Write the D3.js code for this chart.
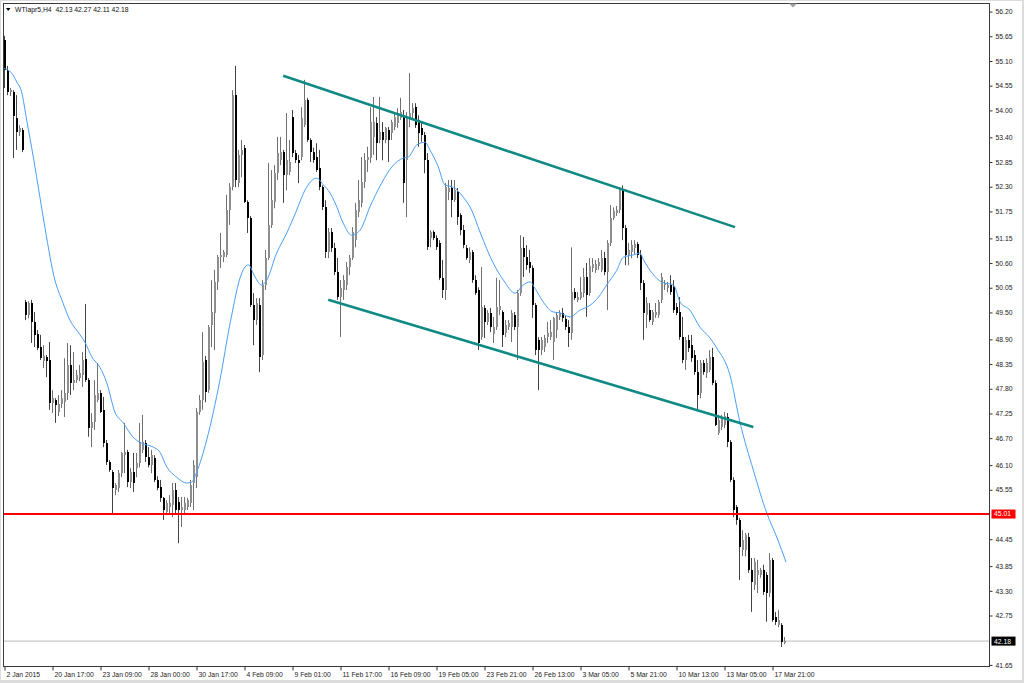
<!DOCTYPE html>
<html><head><meta charset="utf-8">
<script src="https://cdn.jsdelivr.net/npm/d3@7"></script>
<style>
html,body{margin:0;padding:0;background:#dcdcdc;}
svg{display:block;}
text{font-family:"Liberation Sans",Arial,sans-serif;}
</style></head><body>
<svg id="chart" width="1024" height="683"></svg>
<script>
const symbolTitle = "WTIapr5,H4  42.13 42.27 42.11 42.18";
const dateLabels = ["2 Jan 2015","20 Jan 17:00","23 Jan 09:00","28 Jan 00:00","30 Jan 17:00","4 Feb 09:00","9 Feb 01:00","11 Feb 17:00","16 Feb 09:00","19 Feb 05:00","23 Feb 21:00","26 Feb 13:00","3 Mar 05:00","5 Mar 21:00","10 Mar 13:00","13 Mar 05:00","17 Mar 21:00"];
const dateLabelBars = [0,16,32,48,64,80,96,112,128,144,160,176,192,208,224,240,256];
const priceTicks = [56.20,55.65,55.10,54.55,54.00,53.40,52.85,52.30,51.75,51.15,50.60,50.05,49.50,48.90,48.35,47.80,47.25,46.70,46.10,45.55,44.45,43.85,43.30,42.75,41.65];
const supportLevel = 45.01;
const lastPrice = 42.18;
// [open, high, low, close] per H4 bar
const ohlc = [
[55.57,55.66,54.50,54.90],[54.90,54.99,54.34,54.41],[54.41,54.50,54.32,54.45],[54.41,54.45,52.94,53.87],[53.83,54.34,53.12,53.52],
[53.52,53.67,53.43,53.61],[53.56,53.61,53.07,53.12],[49.73,49.78,49.33,49.44],[49.44,49.75,49.37,49.71],[49.71,49.78,48.82,49.29],
[49.29,49.51,48.73,49.00],[49.02,49.11,48.66,48.71],[48.73,49.00,48.44,48.48],[48.42,48.77,48.26,48.53],[48.51,48.55,48.06,48.42],
[48.44,48.84,47.33,47.48],[47.48,47.77,47.26,47.59],[47.55,47.59,47.04,47.44],[47.28,47.66,47.19,47.46],[47.46,47.77,47.37,47.59],
[47.50,48.48,47.17,47.71],[47.71,48.82,47.55,48.33],[48.33,48.77,47.66,47.93],[47.93,48.62,47.77,47.99],[47.99,48.22,47.93,48.11],
[48.04,48.33,47.97,48.15],[48.11,48.62,47.84,48.44],[48.46,49.69,47.95,47.99],[47.99,48.04,46.73,46.92],[46.92,47.26,46.50,47.06],
[47.06,47.99,46.88,47.66],[47.55,48.37,47.50,47.71],[47.71,47.77,47.26,47.28],[47.33,47.62,46.50,46.59],[46.59,46.66,46.10,46.17],
[46.17,46.21,45.95,45.99],[45.95,45.99,45.03,45.59],[45.54,45.70,45.43,45.66],[45.59,45.99,45.50,45.92],[45.92,46.39,45.83,46.37],
[46.32,47.04,45.92,46.39],[46.39,46.44,45.61,45.72],[45.72,46.03,45.59,45.95],[45.95,46.37,45.50,45.70],[46.03,46.37,45.83,46.14],
[46.14,47.04,46.05,46.59],[46.44,47.22,46.37,46.61],[46.59,46.66,46.17,46.28],[46.28,46.50,46.05,46.10],[46.10,46.44,45.92,46.32],
[46.26,46.32,45.72,45.77],[45.77,45.85,45.54,45.59],[45.61,45.77,45.28,45.37],[45.37,45.39,44.88,45.10],[45.06,45.32,44.99,45.26],
[45.17,45.43,44.99,45.26],[45.21,45.70,44.94,45.54],[45.54,45.70,44.99,45.10],[45.28,45.39,44.36,45.10],[45.10,45.39,44.72,45.17],
[45.10,45.39,45.03,45.26],[45.17,45.37,45.10,45.32],[45.26,45.77,45.17,45.66],[45.70,46.21,45.10,46.10],[45.83,47.37,45.59,47.28],
[47.28,47.66,47.22,47.55],[47.55,49.06,47.33,48.40],[48.44,48.53,47.50,47.73],[47.77,49.22,47.71,49.17],[49.22,50.22,48.73,49.51],
[49.49,50.45,48.66,50.18],[50.18,50.78,50.00,50.73],[50.73,51.27,50.49,50.78],[50.73,50.89,50.62,50.84],[50.78,52.12,50.73,51.78],
[51.78,52.38,51.45,52.29],[52.29,54.45,52.22,54.34],[54.34,54.99,52.29,52.45],[52.38,53.12,52.29,53.01],[53.01,53.34,52.51,53.12],
[53.17,53.23,51.94,51.96],[51.96,52.00,51.27,51.60],[51.60,51.65,49.62,49.66],[49.66,49.93,48.77,49.33],[49.33,49.82,49.22,49.71],
[49.66,49.82,48.17,48.51],[48.55,50.22,48.44,50.11],[50.11,50.89,50.00,50.71],[50.71,52.83,50.67,51.45],[51.45,52.67,51.38,52.00],
[51.96,52.78,51.82,52.60],[52.60,53.41,52.45,53.05],[52.89,53.41,52.78,53.07],[53.07,53.12,51.94,52.56],[52.56,53.94,52.22,52.89],
[52.63,53.34,52.56,52.85],[53.85,54.01,52.96,53.05],[53.05,53.12,52.83,52.89],[52.89,53.01,52.38,52.83],[52.96,54.07,52.89,53.83],
[53.67,54.68,53.63,54.23],[54.23,54.28,53.30,53.34],[53.34,53.38,52.85,53.07],[53.07,53.17,52.83,52.89],[52.96,53.27,52.63,52.67],
[52.71,53.12,52.22,52.29],[52.29,52.33,51.78,51.84],[51.84,52.00,50.71,50.84],[50.84,51.38,50.71,51.29],[51.29,51.38,50.85,50.93],
[50.93,51.05,50.33,50.40],[50.40,50.71,49.78,49.84],[49.84,50.22,48.95,50.04],[50.00,50.33,49.78,50.22],[50.11,50.62,50.00,50.51],
[50.51,50.78,50.33,50.71],[50.71,51.40,50.67,51.29],[51.11,51.94,50.95,51.78],[51.73,52.45,51.62,52.00],[51.94,52.96,51.84,52.40],
[52.40,53.05,52.27,52.89],[52.89,53.19,52.63,52.96],[52.94,54.07,52.83,53.74],[53.41,54.30,53.01,53.74],[53.72,53.85,52.89,53.27],
[53.34,54.30,53.27,53.52],[53.52,53.74,52.89,53.34],[53.34,53.63,53.27,53.61],[53.56,53.63,52.85,53.34],[53.50,53.79,53.34,53.74],
[53.63,53.96,53.56,53.85],[53.72,54.05,53.61,53.94],[53.83,54.28,53.79,53.96],[53.89,54.01,51.94,52.38],[52.89,53.96,51.62,53.85],
[53.79,54.83,53.63,53.94],[53.94,54.16,53.79,54.05],[54.07,54.16,53.61,53.67],[53.79,53.89,53.19,53.50],[53.61,53.74,53.30,53.45],
[53.45,53.52,52.60,52.89],[52.89,53.05,50.89,50.95],[51.16,51.33,50.95,51.29],[51.29,51.33,51.11,51.16],[51.16,51.22,50.89,50.95],
[51.05,51.11,50.22,50.27],[50.27,50.67,49.82,50.00],[50.00,52.38,49.78,52.29],[52.18,52.45,52.00,52.27],[52.27,52.45,51.62,52.00],
[52.00,52.45,51.96,52.22],[52.18,52.27,51.45,51.62],[51.67,51.71,51.22,51.33],[51.33,51.45,50.93,51.00],[50.93,51.00,50.67,50.71],
[50.67,50.95,50.60,50.85],[50.84,50.89,50.16,50.22],[50.22,50.33,49.89,49.93],[50.00,50.06,48.66,48.82],[48.95,50.51,48.89,49.62],
[49.60,49.66,48.93,49.29],[49.29,49.55,49.22,49.49],[49.49,49.60,49.06,49.17],[49.02,49.40,48.82,49.17],[49.17,50.27,49.11,49.62],
[49.55,50.22,49.44,49.64],[49.51,49.55,48.73,49.00],[49.04,49.33,48.95,49.22],[49.17,49.33,49.11,49.26],[49.17,49.55,48.84,49.49],
[49.44,49.51,49.11,49.17],[49.17,50.00,48.44,49.93],[49.93,51.22,49.87,50.93],[50.93,51.18,50.29,50.73],[50.73,51.00,50.45,50.55],
[50.62,50.89,50.38,50.49],[50.49,50.55,49.38,49.66],[49.66,49.71,48.55,48.66],[48.89,48.95,47.77,48.66],[48.66,48.95,48.55,48.89],
[48.73,49.00,48.62,48.93],[48.95,49.29,48.82,49.04],[48.95,49.33,48.89,49.06],[48.84,49.40,48.44,49.38],[49.11,49.51,48.93,49.44],
[49.40,49.55,49.33,49.49],[49.49,49.60,49.29,49.38],[49.35,49.42,49.11,49.17],[49.17,49.33,48.73,49.04],[49.04,50.95,48.89,49.95],
[49.95,50.04,49.78,49.82],[49.78,49.95,49.73,49.84],[49.82,50.29,49.78,49.95],[49.93,50.49,49.84,50.29],[50.29,50.60,49.40,49.89],
[49.93,50.71,49.87,50.53],[50.49,50.71,50.40,50.58],[50.45,50.67,50.38,50.58],[50.53,50.71,50.45,50.62],[50.45,50.89,50.40,50.71],
[50.71,50.85,50.33,50.40],[50.40,51.11,49.55,51.05],[51.05,51.89,50.98,51.60],[51.60,51.84,51.56,51.76],[51.71,51.87,51.65,51.78],
[51.78,52.29,51.71,52.22],[52.22,52.33,51.11,51.38],[51.38,51.45,50.55,50.78],[50.78,51.05,50.55,50.89],[50.85,51.11,50.71,51.00],
[50.93,51.11,50.78,51.02],[51.02,51.07,50.71,50.78],[50.78,50.89,50.00,50.16],[50.16,50.22,48.89,49.49],[49.44,49.84,49.15,49.71],
[49.55,49.71,49.29,49.33],[49.29,49.55,49.22,49.51],[49.44,49.71,49.38,49.51],[49.44,49.78,49.38,49.73],[49.78,50.38,49.71,50.29],
[50.11,50.22,50.00,50.16],[50.04,50.18,49.95,50.11],[50.11,50.33,49.89,49.95],[50.06,50.22,49.49,49.55],[49.62,49.71,49.44,49.49],
[49.51,49.84,48.89,48.95],[48.95,49.40,48.37,48.44],[48.44,48.95,48.22,48.89],[48.89,49.00,48.62,48.71],[48.77,49.00,48.40,48.48],
[48.55,48.66,48.11,48.17],[48.17,48.44,47.33,47.66],[47.71,48.44,47.59,48.37],[48.37,48.44,48.11,48.17],[48.15,48.48,48.04,48.37],
[48.22,48.66,48.17,48.51],[48.51,48.71,47.88,47.93],[47.93,47.99,46.97,46.99],[46.81,47.22,46.77,47.10],[46.95,47.22,46.88,47.17],
[46.99,47.28,46.92,47.19],[47.17,47.26,46.50,46.61],[46.61,46.66,45.72,45.77],[45.77,45.83,44.94,45.10],[45.17,45.21,44.77,44.88],
[44.88,44.92,43.54,44.27],[44.21,44.65,44.07,44.43],[44.21,44.59,44.07,44.54],[44.50,44.59,43.70,43.77],[43.77,44.03,42.83,43.50],
[43.43,44.03,43.32,43.95],[43.65,43.99,43.25,43.77],[43.65,43.81,43.59,43.77],[43.77,43.88,43.21,43.27],[43.65,43.72,42.61,43.25],
[43.25,44.14,43.16,43.99],[43.99,44.03,42.61,42.65],[42.72,42.83,42.54,42.61],[42.54,42.87,42.49,42.65],[42.54,42.58,42.05,42.16],
[42.13,42.27,42.11,42.18]
];
// moving average: [bar position, price]
const maPoints = [
[-0.5,54.94],[2.4,54.83],[4.1,54.63],[5.7,54.41],[7.4,53.78],[9.6,52.96],[11.8,52.07],[13.5,51.38],[16.8,50.22],[19.1,49.78],
[21.8,49.33],[25.2,49.00],[26.8,48.84],[29.1,48.51],[31.8,48.28],[34.1,47.93],[36.8,47.28],[39.6,47.04],[42.9,46.72],[45.7,46.59],
[49.6,46.50],[51.8,46.39],[54.1,46.06],[57.4,45.83],[60.7,45.70],[62.4,45.72],[64.1,45.95],[67.4,46.66],[71.8,47.99],[75.2,49.26],
[79.1,50.38],[81.3,50.56],[83.5,50.29],[85.7,50.11],[87.4,50.22],[90.7,50.82],[94.1,51.27],[97.4,51.78],[100.2,52.23],[104.1,52.49],
[106.3,52.34],[108.5,52.16],[110.2,51.94],[112.9,51.49],[115.7,51.22],[118.5,51.33],[121.8,51.85],[125.7,52.38],[129.1,52.74],[133.0,52.94],
[134.6,52.96],[137.4,53.23],[140.2,53.29],[141.8,53.12],[144.6,52.74],[146.8,52.34],[149.6,52.29],[152.9,52.07],[155.7,51.78],[158.5,51.29],
[162.9,50.60],[166.3,50.22],[170.2,49.93],[172.9,50.11],[175.2,50.18],[176.8,50.04],[179.6,49.73],[182.9,49.51],[185.2,49.49],[188.5,49.40],
[191.8,49.55],[195.2,49.66],[198.0,49.84],[200.7,50.11],[204.1,50.44],[206.3,50.73],[209.6,50.78],[211.8,50.82],[213.0,50.67],[219.0,50.18],
[223.0,50.11],[225.2,49.73],[228.5,49.55],[231.8,49.17],[235.2,48.93],[237.4,48.71],[241.8,48.11],[245.2,47.04],[249.6,45.99],[254.1,45.03],
[257.4,44.50],[260.5,43.94]
];
const upperChannel = [[92.9,54.77],[243.5,51.40]];
const lowerChannel = [[107.9,49.78],[249.6,46.95]];

const svg = d3.select("#chart");
const L = 3.5, T = 3.5, R = 989.5, B = 666.5;

svg.append("rect").attr("x",1).attr("y",1).attr("width",1021).attr("height",679).attr("fill","#ffffff");

const x = d3.scaleLinear().domain([0, 260]).range([4.5, 784.5]);
const y = d3.scaleLinear().domain([41.65, 56.20]).range([664.9, 11.6]);

svg.append("defs").append("clipPath").attr("id","plot")
  .append("rect").attr("x",L+0.5).attr("y",T+0.5).attr("width",R-L-1).attr("height",B-T-1);

const plot = svg.append("g").attr("clip-path","url(#plot)");

// current price line
plot.append("line").attr("x1",L).attr("x2",R).attr("y1",y(lastPrice)).attr("y2",y(lastPrice))
  .attr("stroke","#c8c8c8").attr("stroke-width",1.2);

// candles
const bars = plot.append("g");
ohlc.forEach((d,i)=>{
  const [o,h,l,c] = d;
  const cx = x(i);
  const bull = c >= o;
  bars.append("line").attr("x1",cx).attr("x2",cx).attr("y1",y(h)).attr("y2",y(l))
    .attr("stroke", bull ? "#707070" : "#444").attr("stroke-width",1);
  const top = y(Math.max(o,c)), bot = y(Math.min(o,c));
  bars.append("rect").attr("x",cx-1).attr("y",top).attr("width",2).attr("height",Math.max(1,bot-top))
    .attr("fill", bull ? "#8e8e8e" : "#000000").attr("shape-rendering","crispEdges");
});

// moving average
plot.append("path").datum(maPoints)
  .attr("d", d3.line().x(d=>x(d[0])).y(d=>y(d[1])).curve(d3.curveMonotoneX))
  .attr("fill","none").attr("stroke","#4a9ef5").attr("stroke-width",1);

// channel lines
[upperChannel, lowerChannel].forEach(ch=>{
  plot.append("line").attr("x1",x(ch[0][0])).attr("y1",y(ch[0][1]))
    .attr("x2",x(ch[1][0])).attr("y2",y(ch[1][1]))
    .attr("stroke","#108a82").attr("stroke-width",2.6);
});

// support line
plot.append("line").attr("x1",L).attr("x2",R).attr("y1",y(supportLevel)).attr("y2",y(supportLevel))
  .attr("stroke","#ff0000").attr("stroke-width",2);

// frame
svg.append("rect").attr("x",L).attr("y",T).attr("width",R-L).attr("height",B-T)
  .attr("fill","none").attr("stroke","#3a3a3a").attr("stroke-width",1);

// right axis
const yAxis = d3.axisRight(y).tickValues(priceTicks).tickFormat(d3.format(".2f")).tickSize(3).tickPadding(3);
const gy = svg.append("g").attr("transform",`translate(${R},0)`).call(yAxis);
gy.select(".domain").remove();
gy.selectAll("line").attr("stroke","#333");
gy.selectAll("text").attr("font-size","6.8px").attr("fill","#222").style("font-family","'Liberation Sans',Arial,sans-serif");

// bottom axis
const xAxis = d3.axisBottom(x).tickValues(dateLabelBars).tickFormat((d,i)=>dateLabels[i]).tickSize(4).tickPadding(2);
const gx = svg.append("g").attr("transform",`translate(0,${B})`).call(xAxis);
gx.select(".domain").remove();
gx.selectAll("line").attr("stroke","#333");
gx.selectAll("text").attr("text-anchor","start").attr("x",1.5).attr("font-size","6.8px").attr("fill","#222")
  .style("font-family","'Liberation Sans',Arial,sans-serif");

// price boxes
function priceBox(v, fill){
  const yy = y(v);
  svg.append("rect").attr("x",R+2).attr("y",yy-4.5).attr("width",24).attr("height",9).attr("fill",fill);
  svg.append("text").attr("x",R+4.5).attr("y",yy+2.4).attr("font-size","6.8px").attr("fill","#fff")
    .text(d3.format(".2f")(v));
}
priceBox(supportLevel, "#ff0000");
priceBox(lastPrice, "#000000");

// title
svg.append("path").attr("d","M6,8 L10.5,8 L8.25,11 Z").attr("fill","#000");
svg.append("text").attr("x",15).attr("y",11.8).attr("font-size","6.8px").attr("fill","#111")
  .style("white-space","pre").text(symbolTitle);

// chart shift marker
svg.append("path").attr("d","M789,3.5 L797,3.5 L793,7.5 Z").attr("fill","#a0a0a0");
</script>
</body></html>
